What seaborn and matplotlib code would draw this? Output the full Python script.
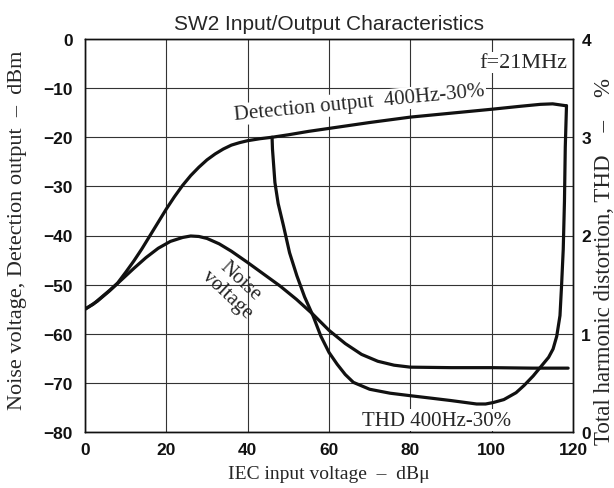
import matplotlib
matplotlib.use("Agg")
import matplotlib.pyplot as plt
import seaborn as sns
import pandas as pd

# ---- data ----
det_x = [0, 2, 4, 6, 8, 10, 12, 14, 16, 18, 20, 22, 24, 26, 28, 30, 32, 34, 36, 38, 40, 43, 46,
         50, 55, 60, 70, 80, 90, 100, 107, 112, 115, 118.4]
det_y = [-55, -54, -52.6, -51.2, -49.7, -47.5, -45.2, -42.7, -40, -37.3, -34.6, -32.1, -29.8, -27.8,
         -26.1, -24.6, -23.4, -22.4, -21.6, -21.1, -20.7, -20.3, -20,
         -19.5, -18.8, -18.2, -17, -15.9, -15.1, -14.3, -13.7, -13.3, -13.2, -13.6]

noise_x = [0, 3, 6, 9, 12, 15, 18, 21, 24, 26, 28, 30, 33, 36, 40, 44, 48, 52, 56, 60, 64, 68, 72,
           76, 80, 90, 100, 110, 118.8]
noise_y = [-55, -53.4, -51.3, -49, -46.7, -44.5, -42.6, -41.2, -40.4, -40.1, -40.2, -40.6, -41.7,
           -43.2, -45.5, -47.9, -50.3, -53, -56, -59.3, -62, -64.2, -65.6, -66.4, -66.8, -66.9,
           -66.9, -67, -67]

thd_x = [46, 46.1, 46.7, 47.5, 48.8, 50.3, 52.1, 54, 56.1, 58, 60, 62, 64, 66, 70, 75, 79.9, 85, 90,
         96.3, 98.5, 100.4, 103, 106, 108, 110.2, 112, 114, 115.1, 116, 116.8, 117.2, 117.6, 117.9,
         118.1, 118.4]
thd_y = [3.0, 2.88, 2.54, 2.325, 2.10, 1.825, 1.59, 1.375, 1.18, 0.975, 0.81, 0.69, 0.585, 0.505,
         0.435, 0.395, 0.37, 0.345, 0.32, 0.285, 0.285, 0.30, 0.33, 0.40, 0.475, 0.57, 0.66, 0.76,
         0.845, 0.975, 1.185, 1.5, 1.86, 2.35, 2.9, 3.32]

x_ticks = [0, 20, 40, 60, 80, 100, 120]
y_ticks = [0, -10, -20, -30, -40, -50, -60, -70, -80]
y2_ticks = [0, 1, 2, 3, 4]

title = "SW2 Input/Output Characteristics"
xlabel = "IEC input voltage  –  dBμ"
ylabel = "Noise voltage, Detection output  –  dBm"
y2label = "Total harmonic distortion, THD    –    %"

sns.set_theme(style="white")
plt.rcParams['font.family'] = ['Liberation Serif', 'DejaVu Serif']

fig = plt.figure(figsize=(6.14, 4.89), dpi=100)
ax = fig.add_axes([85/614, 1-433/489, (573-85)/614, (433-40)/489])
ax2 = ax.twinx()

det = pd.DataFrame({"x": det_x, "y": det_y})
noi = pd.DataFrame({"x": noise_x, "y": noise_y})
thd = pd.DataFrame({"x": thd_x, "y": thd_y})

lw = 2.3
sns.lineplot(data=det, x="x", y="y", ax=ax, color="#111111", lw=lw, sort=False, estimator=None)
sns.lineplot(data=noi, x="x", y="y", ax=ax, color="#111111", lw=lw, sort=False, estimator=None)
sns.lineplot(data=thd, x="x", y="y", ax=ax2, color="#111111", lw=lw, sort=False, estimator=None)

ax.set_xlim(0, 120)
ax.set_ylim(-80, 0)
ax2.set_ylim(0, 4)
ax.set_xticks(x_ticks)
ax.set_yticks(y_ticks)
ax2.set_yticks(y2_ticks)

tickfont = dict(family='Liberation Sans', weight='bold', size=12.5)
ax.set_xticklabels([str(v) for v in x_ticks], fontdict=tickfont)
ax.set_yticklabels([str(v).replace('-', '−') for v in y_ticks], fontdict=tickfont)
ax2.set_yticklabels([str(v) for v in y2_ticks], fontdict=tickfont)
ax.tick_params(axis='x', length=0, pad=7, colors='#111111')
ax.tick_params(axis='y', length=0, pad=9, colors='#111111')
ax2.tick_params(axis='y', length=0, pad=6, colors='#111111')

ax.grid(True, color='#333333', lw=0.8)
ax.set_axisbelow(True)
for a in (ax, ax2):
    for s in a.spines.values():
        s.set_color('#111111')
        s.set_linewidth(1.0)

ax.set_xlabel(xlabel, fontsize=14, labelpad=6)
ax.set_ylabel(ylabel, fontsize=16)
ax.yaxis.set_label_coords((18 - 85) / 488, (433 - 230) / 393)
ax.yaxis.label.set_va('center')
ax2.set_ylabel(y2label, fontsize=16.5)
ax2.yaxis.set_label_coords((604 - 85) / 488, (433 - 262) / 393)
ax2.yaxis.label.set_va('center')
ax.set_title(title, fontsize=15, family='Liberation Sans', pad=7)

box = dict(facecolor='white', edgecolor='none', pad=1.0)
ax.text(118.5, -4.8, "f=21MHz", fontsize=16, ha='right', va='center', bbox=box)
ax.text(67.5, -13.0, "Detection output  400Hz-30%", fontsize=15, ha='center', va='center',
        rotation=5.5, rotation_mode='anchor', bbox=box)
ax.text(36.5, -50.5, "Noise\nvoltage", fontsize=15, ha='center', va='center', rotation=-43,
        linespacing=1.0)
ax.text(86.5, -77.6, "THD 400Hz-30%", fontsize=15, ha='center', va='center', bbox=box)

fig.savefig("out.png", dpi=100)
